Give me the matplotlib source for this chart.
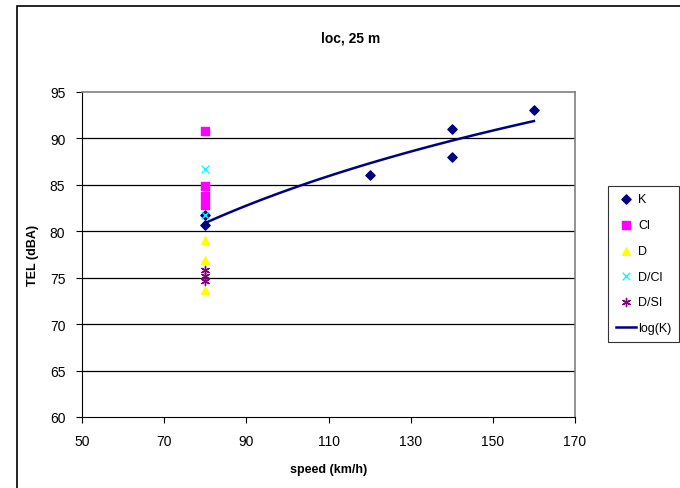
import numpy as np
import matplotlib.pyplot as plt
from matplotlib.patches import Rectangle

plt.rcParams['font.family'] = ['Liberation Sans', 'DejaVu Sans']

# measured TEL values per vehicle category
k_speed = [80, 80, 120, 140, 140, 160]
k_tel = [80.7, 81.7, 86.0, 88.0, 91.0, 93.0]
cl_speed = [80, 80, 80, 80]
cl_tel = [90.8, 84.9, 83.8, 82.8]
d_speed = [80, 80, 80]
d_tel = [79.0, 76.9, 73.7]
dcl_speed = [80, 80]
dcl_tel = [86.7, 81.7]
dsi_speed = [80, 80, 80]
dsi_tel = [75.8, 75.2, 74.6]

fig = plt.figure(figsize=(6.8, 4.89), dpi=100)
ax = fig.add_axes([0.1206, 0.1452, 0.725, 0.665])

for y in range(65, 95, 5):
    ax.axhline(y, color='black', lw=0.9, zorder=1)

ax.scatter(k_speed, k_tel, marker='D', s=22, color='#000080', label='K', zorder=3)
ax.scatter(cl_speed, cl_tel, marker='s', s=28, color='#FF00FF', label='Cl', zorder=3)
ax.scatter(d_speed, d_tel, marker='^', s=30, color='#FFFF00', label='D', zorder=3)
ax.scatter(dcl_speed, dcl_tel, marker='x', s=30, color='#00FFFF', lw=1, label='D/Cl', zorder=4)
ax.scatter(dsi_speed, dsi_tel, marker=(6, 2, 0), s=34, color='#800080', lw=1, label='D/SI', zorder=4)

# logarithmic trend fitted to K
a, b = np.polyfit(np.log(k_speed), k_tel, 1)
xs = np.linspace(min(k_speed), max(k_speed), 100)
ax.plot(xs, a * np.log(xs) + b, color='#000080', lw=1.8, label='log(K)', zorder=2)

ax.set_xlim(50, 170)
ax.set_ylim(60, 95)
ax.set_xticks(range(50, 171, 20))
ax.set_yticks(range(60, 96, 5))
ax.tick_params(labelsize=10, length=4, width=0.8, direction='out', pad=8)
for side in ['top', 'right']:
    ax.spines[side].set_color('#808080')
    ax.spines[side].set_linewidth(1.2)
for side in ['left', 'bottom']:
    ax.spines[side].set_color('black')

ax.set_xlabel('speed (km/h)', fontsize=9, fontweight='bold', labelpad=11)
ax.set_ylabel('TEL (dBA)', fontsize=9, fontweight='bold', labelpad=8)
fig.text(0.515, 0.922, 'loc, 25 m', ha='center', va='center', fontsize=10, fontweight='bold')

handles, labels = ax.get_legend_handles_labels()
leg = fig.legend(handles, labels, loc='upper left',
                 bbox_to_anchor=(608 / 680, 1 - 187 / 489), borderaxespad=0,
                 frameon=True, fancybox=False, edgecolor='black', fontsize=9,
                 handlelength=1.6, handletextpad=0.2, labelspacing=1.1, borderpad=0.6)
leg.get_frame().set_linewidth(0.8)

# outer chart border
fig.add_artist(Rectangle((17 / 680, -0.1), 1.2, 1.1 - 7 / 489, transform=fig.transFigure,
                         fill=False, edgecolor='black', lw=1.2, clip_on=False))

fig.savefig('out.png', dpi=100)
